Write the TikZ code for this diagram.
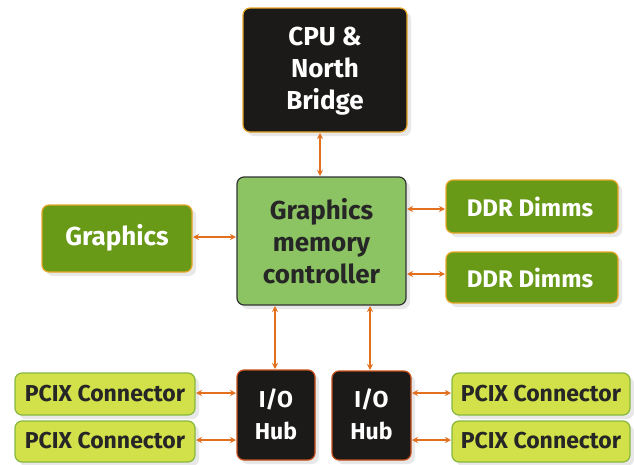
\documentclass[tikz,border=0pt]{standalone}
\usepackage{fontspec}
\setmainfont{Fira Sans}
\usetikzlibrary{arrows.meta,shadows}
\definecolor{cpufill}{HTML}{1C1A18}
\definecolor{gold}{HTML}{E8A628}
\definecolor{hubedge}{HTML}{C8501A}
\definecolor{gmcfill}{HTML}{8CC464}
\definecolor{dkgreen}{HTML}{689A18}
\definecolor{pcifill}{HTML}{D2E04A}
\definecolor{pciedge}{HTML}{86B840}
\definecolor{link}{HTML}{E2701E}
\tikzset{
  box/.style={rounded corners=7pt, line width=1.2pt, inner sep=0pt,
    drop shadow={shadow xshift=4pt, shadow yshift=-4pt, opacity=0.18}},
  blackbox/.style={box, fill=cpufill},
  greenbox/.style={box, fill=dkgreen, draw=gold},
  pcibox/.style={box, fill=pcifill, draw=pciedge},
  link/.style={draw=link, line width=1.6pt, {Stealth[length=6pt,width=6pt]}-{Stealth[length=6pt,width=6pt]}},
  lbl/.style={font=\fontsize{26}{32}\selectfont\bfseries, align=center},
  wlbl/.style={lbl, text=white},
  dlbl/.style={lbl, text=black!85},
  ddrlbl/.style={wlbl, font=\fontsize{24}{28}\selectfont\bfseries},
  hublbl/.style={wlbl, font=\fontsize{23}{32}\selectfont\bfseries},
  pcilbl/.style={dlbl, font=\fontsize{23}{26}\selectfont\bfseries}
}
\begin{document}
\begin{tikzpicture}[x=1pt,y=-1pt]
\useasboundingbox[fill=white] (0,0) rectangle (634,464);
% CPU and memory controller
\path[blackbox, draw=gold] (243,8) rectangle (407,132);
\node[wlbl] (cpu) at (325,71) {CPU \&\\North\\Bridge};
\path[box, fill=gmcfill, draw=black!80] (237,177) rectangle (406,305);
\node[dlbl] (gmc) at (321.5,241) {Graphics\\memory\\controller};
% graphics card and DIMMs
\path[greenbox] (42,205) rectangle (192,272);
\node[wlbl] (gfx) at (117,238) {Graphics};
\path[greenbox] (446,180) rectangle (618,233);
\node[ddrlbl] (ddr1) at (530,207) {DDR Dimms};
\path[greenbox] (446,252) rectangle (618,303);
\node[ddrlbl] (ddr2) at (530,278) {DDR Dimms};
% I/O hubs
\path[blackbox, draw=hubedge] (237,370) rectangle (315,460);
\node[hublbl] (hub1) at (276,414) {I/O\\Hub};
\path[blackbox, draw=hubedge] (332,371) rectangle (411,460);
\node[hublbl] (hub2) at (371.5,414) {I/O\\Hub};
% PCI-X connectors
\path[pcibox] (15,373) rectangle (195,415);
\node[pcilbl] (pa) at (105,394) {PCIX Connector};
\path[pcibox] (15,421) rectangle (195,462);
\node[pcilbl] (pb) at (105,441) {PCIX Connector};
\path[pcibox] (452,373) rectangle (630,415);
\node[pcilbl] (pc) at (541,394) {PCIX Connector};
\path[pcibox] (452,421) rectangle (630,462);
\node[pcilbl] (pd) at (541,441) {PCIX Connector};
% links
\draw[link] (320,133) -- (320,176);
\draw[link] (193,237) -- (236,237);
\draw[link] (407,209) -- (445,209);
\draw[link] (407,274) -- (445,274);
\draw[link] (275,306) -- (275,369);
\draw[link] (370,306) -- (370,370);
\draw[link] (196,393) -- (236,393);
\draw[link] (196,440) -- (236,440);
\draw[link] (412,393) -- (451,393);
\draw[link] (412,440) -- (451,440);
\end{tikzpicture}
\end{document}
